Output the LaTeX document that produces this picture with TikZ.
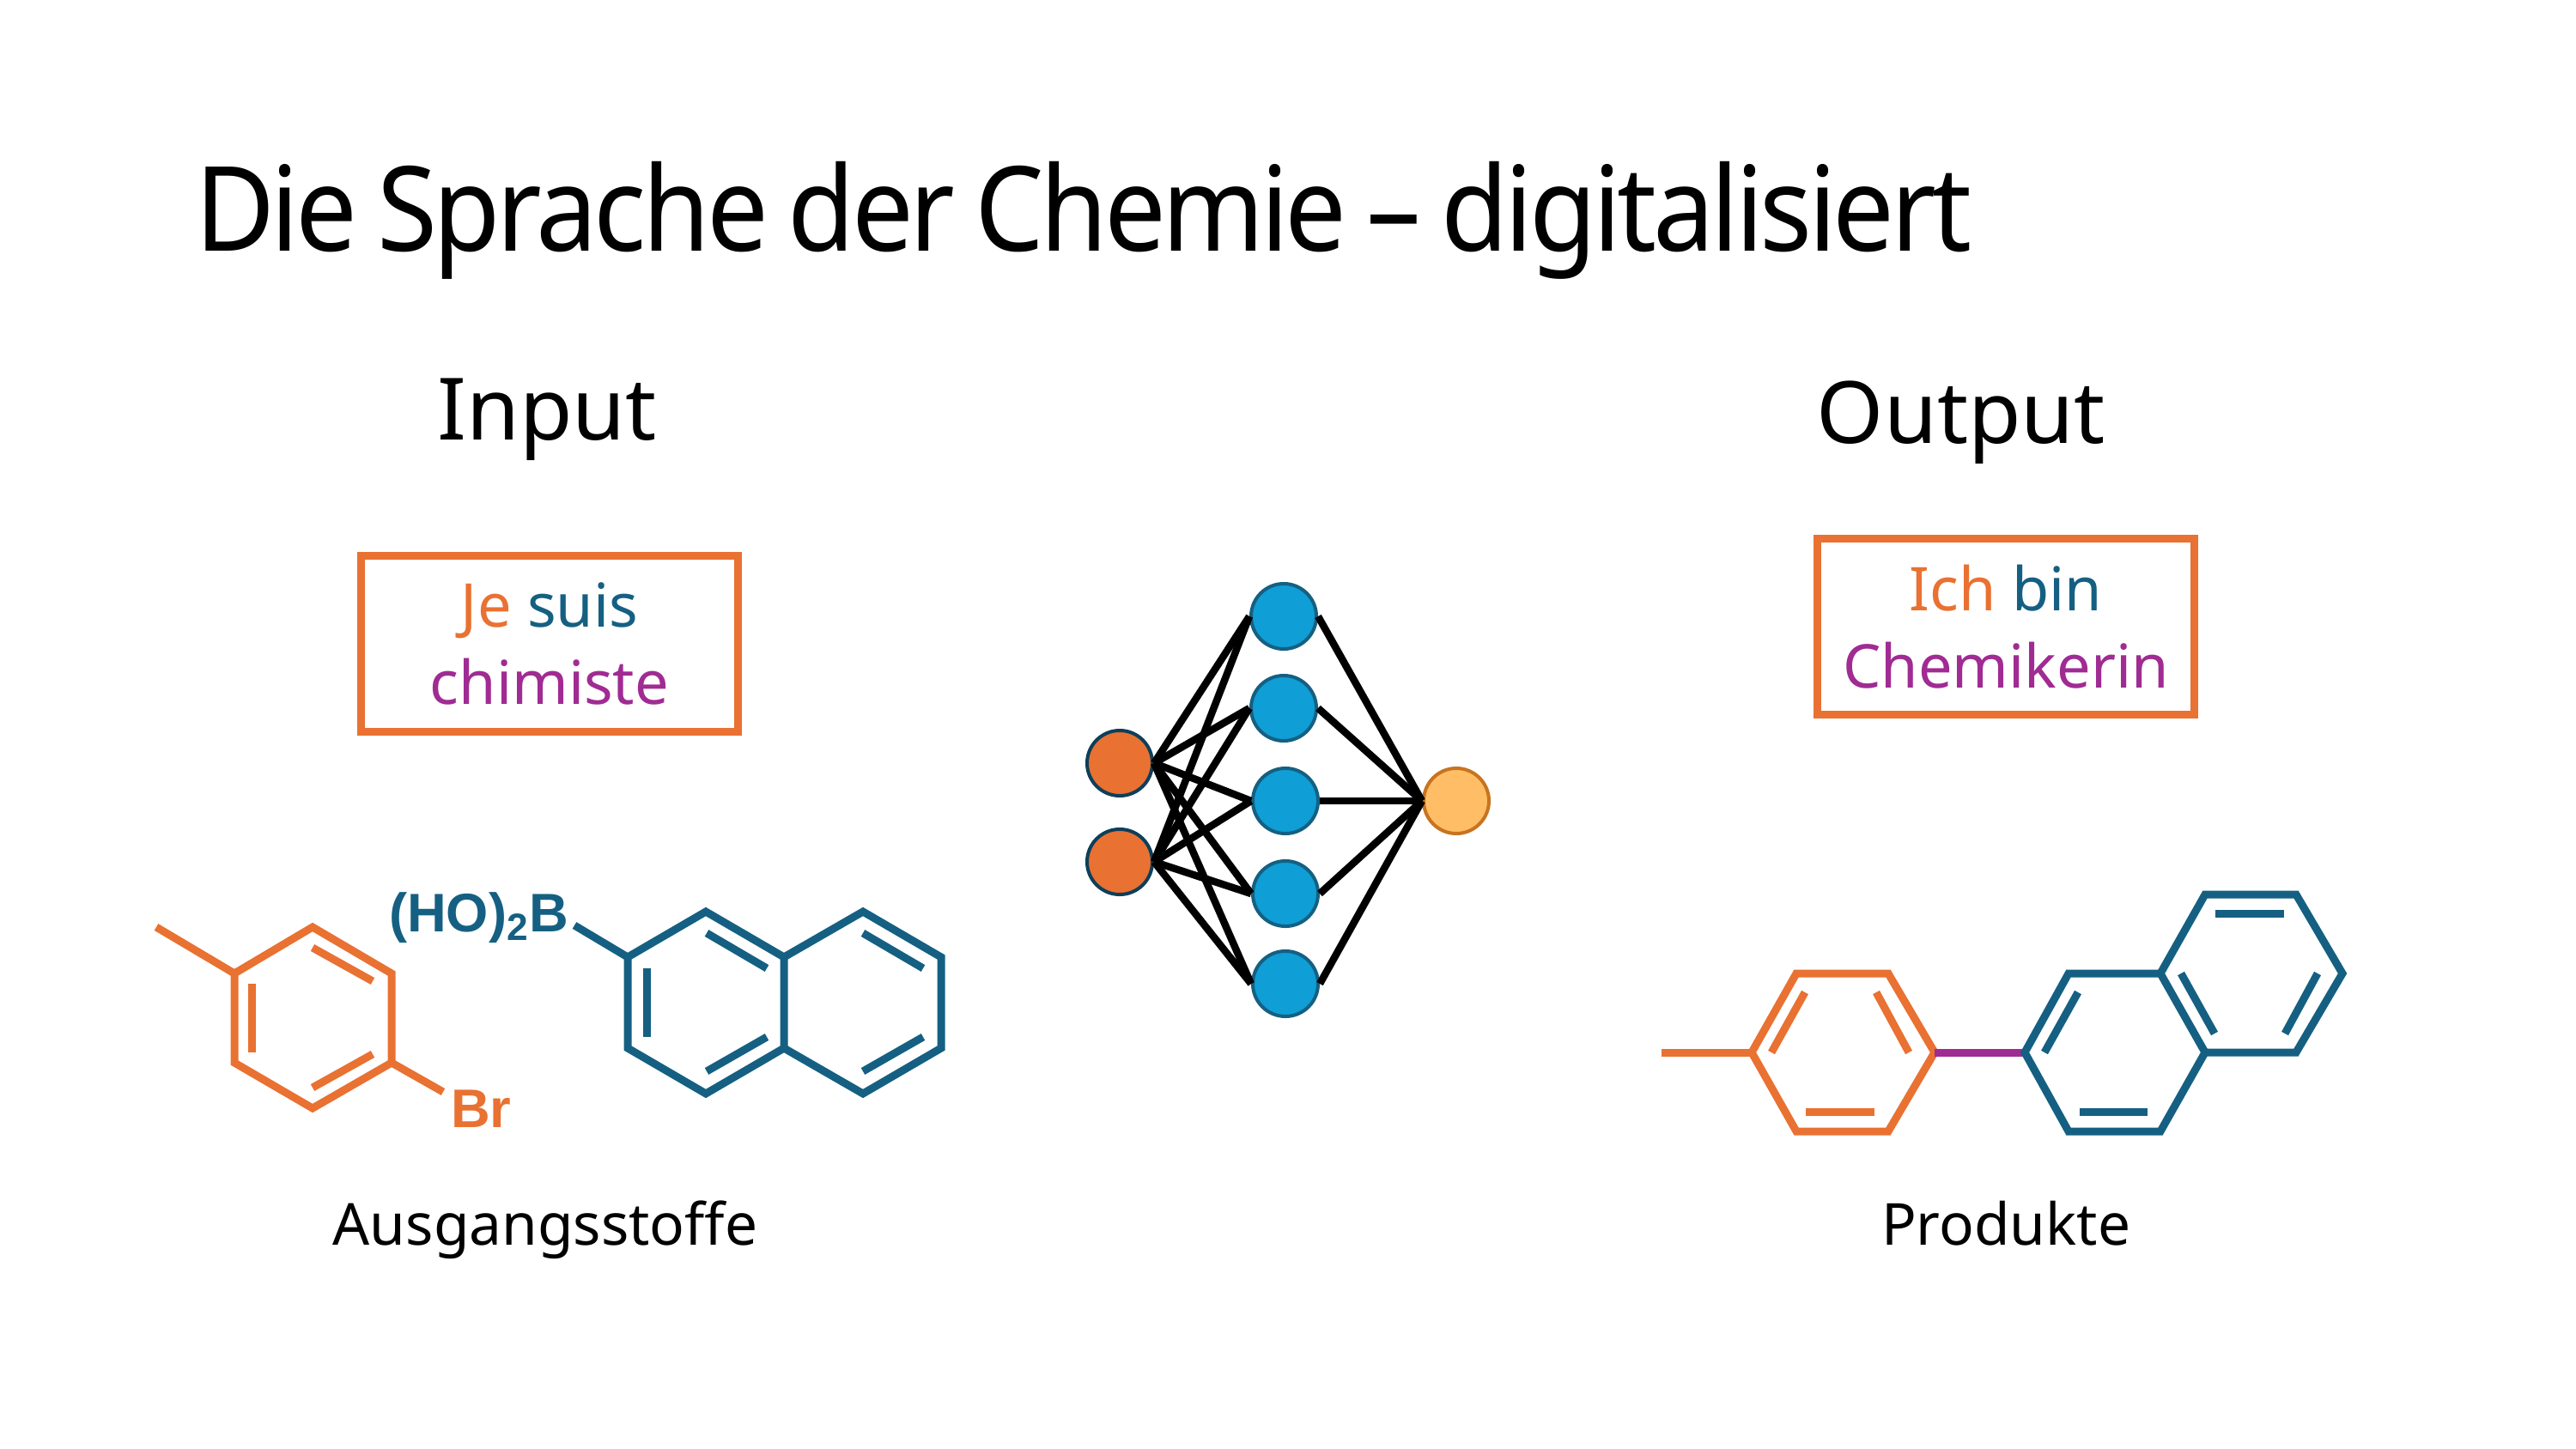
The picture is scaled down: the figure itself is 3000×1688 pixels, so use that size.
\documentclass[tikz,border=0pt]{standalone}
\usepackage{fontspec}
\setmainfont{Noto Sans}
\newfontfamily\labelfont{Liberation Sans}
\newfontfamily\titlefont[FakeStretch=0.93,LetterSpace=-3.2,WordSpace=0.8]{Noto Sans}
\definecolor{chemorange}{HTML}{E97132}
\definecolor{chemblue}{HTML}{156082}
\definecolor{chempurple}{HTML}{A02B93}
\definecolor{netblue}{HTML}{0F9ED5}
\definecolor{netyellow}{HTML}{FFBE66}
\definecolor{netrim}{HTML}{C8741F}
\definecolor{netdark}{HTML}{0E3F5A}
\tikzset{
  txt/.style={inner sep=0pt,outer sep=0pt},
  titletxt/.style={txt,font=\titlefont\fontsize{39}{46}\selectfont},
  headtxt/.style={txt,font=\fontsize{28.5}{34}\selectfont},
  captxt/.style={txt,font=\fontsize{19.2}{24}\selectfont},
  atomtxt/.style={txt,font=\labelfont\bfseries\fontsize{18}{20}\selectfont},
  wordbox/.style={draw=chemorange,line width=0.09cm,minimum width=4.38cm,minimum height=2.04cm,
    inner sep=0pt,align=center,font=\fontsize{20}{25.6}\selectfont},
  bond/.style={line width=0.09cm,miter limit=10},
  neuron/.style={circle,minimum size=0.76cm,inner sep=0pt,line width=0.04cm},
  inneuron/.style={neuron,fill=chemorange,draw=netdark},
  hidneuron/.style={neuron,fill=netblue,draw=chemblue},
  outneuron/.style={neuron,fill=netyellow,draw=netrim},
  syn/.style={line width=0.085cm,black}
}
\begin{document}
\begin{tikzpicture}[x=0.01cm,y=-0.01cm]
    \useasboundingbox (0,0) rectangle (3000,1688);

    \node[titletxt,anchor=base west] (title) at (227,292) {Die Sprache der Chemie – digitalisiert};
    \node[headtxt] (input) at (637,489) {Input};
    \node[headtxt] (output) at (2284,492) {Output};

    \node[wordbox] (frbox) at (640,750) {\textcolor{chemorange}{Je} \textcolor{chemblue}{suis}\\ \textcolor{chempurple}{chimiste}};
    \node[wordbox] (debox) at (2336,730) {\textcolor{chemorange}{Ich} \textcolor{chemblue}{bin}\\ \textcolor{chempurple}{Chemikerin}};

    \node[captxt,anchor=base] (educts) at (635,1450) {Ausgangsstoffe};
    \node[captxt,anchor=base] (products) at (2336,1450) {Produkte};

    % toluene part
    \draw[bond,chemorange] (364,1080) -- (456,1134) -- (456,1238) -- (364,1291) -- (273,1238) -- (273,1134) -- cycle;
    \draw[bond,chemorange] (182,1080) -- (273,1134);
    \draw[bond,chemorange] (456,1238) -- (516,1272);
    \draw[bond,chemorange] (293,1146) -- (293,1226);
    \draw[bond,chemorange] (364,1104) -- (434,1143);
    \draw[bond,chemorange] (434,1228) -- (364,1267);
    \node[atomtxt,chemorange,anchor=base west] (br) at (525,1313) {Br};

    % naphthyl part
    \draw[bond,chemblue] (822,1062) -- (913,1115) -- (913,1221) -- (822,1274) -- (731,1221) -- (731,1115) -- cycle;
    \draw[bond,chemblue] (913,1115) -- (1005,1062) -- (1096,1115) -- (1096,1221) -- (1005,1274) -- (913,1221);
    \draw[bond,chemblue] (669,1078) -- (731,1115);
    \draw[bond,chemblue] (753,1128) -- (753,1208);
    \draw[bond,chemblue] (823,1087) -- (893,1128);
    \draw[bond,chemblue] (893,1208) -- (823,1248);
    \draw[bond,chemblue] (1005,1087) -- (1075,1128);
    \draw[bond,chemblue] (1075,1208) -- (1005,1248);
    \node[atomtxt,chemblue,anchor=base west] (boron) at (453,1085) {(HO)\textsubscript{2}B};

    % product
    \draw[bond,chemorange] (1935,1226) -- (2040,1226);
    \draw[bond,chemorange] (2040,1226) -- (2092,1134) -- (2199,1134) -- (2253,1226) -- (2199,1318) -- (2092,1318) -- cycle;
    \draw[bond,chemorange] (2102,1156) -- (2063,1226);
    \draw[bond,chemorange] (2185,1156) -- (2223,1226);
    \draw[bond,chemorange] (2103,1295) -- (2183,1295);
    \draw[bond,chempurple] (2253,1226) -- (2358,1226);
    \draw[bond,chemblue] (2358,1226) -- (2409,1134) -- (2516,1134) -- (2568,1226) -- (2516,1318) -- (2409,1318) -- cycle;
    \draw[bond,chemblue] (2516,1134) -- (2568,1042) -- (2674,1042) -- (2728,1134) -- (2674,1226) -- (2568,1226);
    \draw[bond,chemblue] (2420,1156) -- (2381,1226);
    \draw[bond,chemblue] (2422,1295) -- (2501,1295);
    \draw[bond,chemblue] (2580,1064) -- (2660,1064);
    \draw[bond,chemblue] (2540,1134) -- (2579,1204);
    \draw[bond,chemblue] (2699,1134) -- (2661,1204);

    % network
    \node[inneuron] (in1) at (1304,889) {};
    \node[inneuron] (in2) at (1304,1004) {};
    \node[hidneuron] (hid1) at (1495,718) {};
    \node[hidneuron] (hid2) at (1495,825) {};
    \node[hidneuron] (hid3) at (1497,933) {};
    \node[hidneuron] (hid4) at (1497,1041) {};
    \node[hidneuron] (hid5) at (1497,1146) {};
    \node[outneuron] (res) at (1696,933) {};

    \draw[syn] (in1.east) -- (hid1.west);
    \draw[syn] (in1.east) -- (hid2.west);
    \draw[syn] (in1.east) -- (hid3.west);
    \draw[syn] (in1.east) -- (hid4.west);
    \draw[syn] (in1.east) -- (hid5.west);
    \draw[syn] (in2.east) -- (hid1.west);
    \draw[syn] (in2.east) -- (hid2.west);
    \draw[syn] (in2.east) -- (hid3.west);
    \draw[syn] (in2.east) -- (hid4.west);
    \draw[syn] (in2.east) -- (hid5.west);
    \draw[syn] (hid1.east) -- (res.west);
    \draw[syn] (hid2.east) -- (res.west);
    \draw[syn] (hid3.east) -- (res.west);
    \draw[syn] (hid4.east) -- (res.west);
    \draw[syn] (hid5.east) -- (res.west);
\end{tikzpicture}
\end{document}
